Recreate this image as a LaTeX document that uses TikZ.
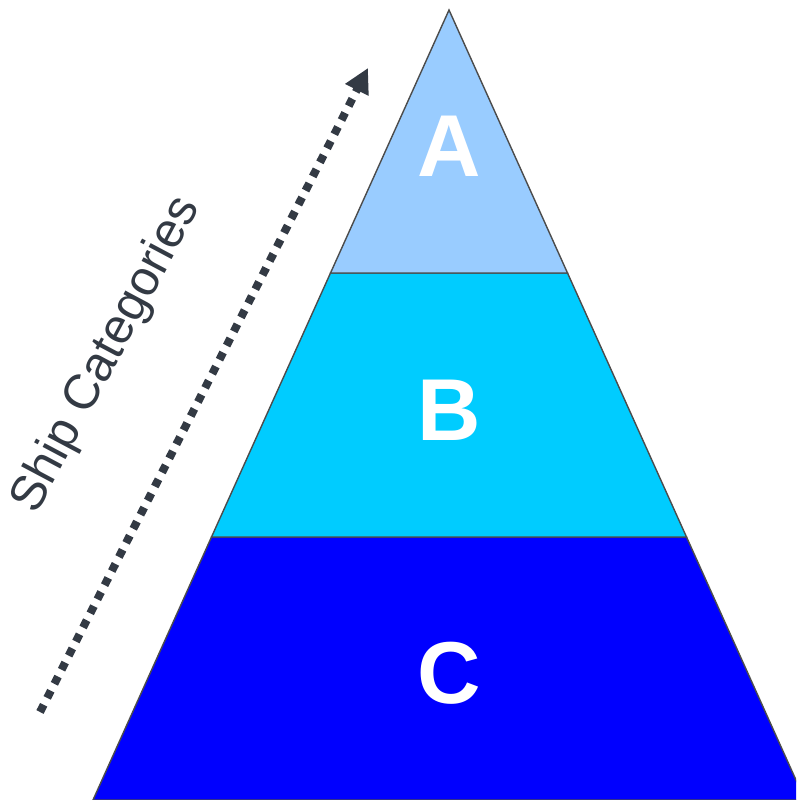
\documentclass[tikz,border=0pt]{standalone}
\usepackage{fontspec}
\setmainfont{Liberation Sans}
\usepackage{tikz}
\usetikzlibrary{arrows.meta,positioning}
\definecolor{tierA}{HTML}{99CCFF}
\definecolor{tierB}{HTML}{00CCFF}
\definecolor{tierC}{HTML}{0000FF}
\definecolor{arrowgray}{HTML}{333A44}
\tikzset{
  tier/.style={draw=black!70, line width=0.4pt},
  tierlabel/.style={text=white, font=\fontsize{25}{30}\selectfont\bfseries},
}
\begin{document}
\begin{tikzpicture}

    \useasboundingbox (0,0) rectangle (7.96,8);
    \clip (0,0) rectangle (7.96,8);

    %%% Pyramid %%%
    \coordinate (T) at (4.49,7.90);
    \coordinate (L1) at (3.305,5.27);   \coordinate (R1) at (5.675,5.27);
    \coordinate (L2) at (2.115,2.63);   \coordinate (R2) at (6.865,2.63);
    \coordinate (L3) at (0.93,0);       \coordinate (R3) at (8.05,0);
    \filldraw[tier, fill=tierC] (L2)--(R2)--(R3)--(L3)--cycle;
    \filldraw[tier, fill=tierB] (L1)--(R1)--(R2)--(L2)--cycle;
    \filldraw[tier, fill=tierA] (T)--(R1)--(L1)--cycle;
    \node[tierlabel] (A) at (4.49,6.54) {A};
    \node[tierlabel] (B) at (4.49,3.90) {B};
    \node[tierlabel] (C) at (4.49,1.27) {C};

    %%% Arrow %%%
    \coordinate (tail) at (0.40,0.88);
    \coordinate (tip) at (3.68,7.32);
    \draw[arrowgray, line width=2.3pt, dash pattern=on 2.3pt off 2.2pt,
          -{Triangle[length=7pt,width=7pt]}] (tail)--(tip);
    \node[rotate=62, text=arrowgray, font=\fontsize{14}{16}\selectfont] (cat) at (1.07,4.45) {Ship Categories};

\end{tikzpicture}
\end{document}
